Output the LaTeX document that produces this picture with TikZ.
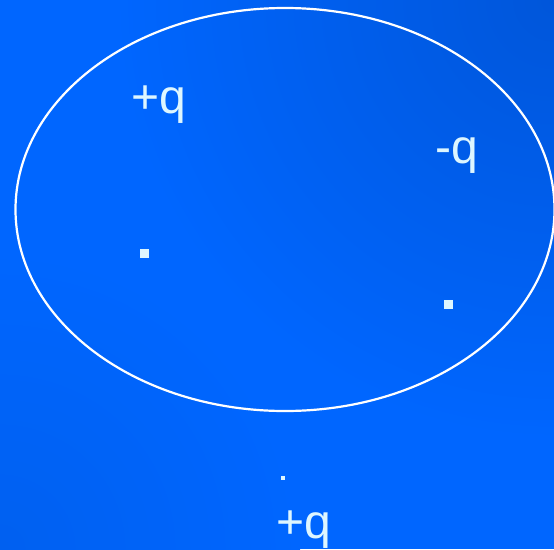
\documentclass[tikz,border=0pt]{standalone}
\usepackage{fontspec}
\setmainfont{Liberation Sans}
\usetikzlibrary{shapes.geometric}
\definecolor{slideblue}{HTML}{0066FF}
\definecolor{slidedark}{HTML}{0056DA}
\definecolor{slidelow}{HTML}{0060F0}
\definecolor{chargefg}{HTML}{DDF6FF}

\begin{document}
\begin{tikzpicture}[
	x=1pt, y=-1pt,
	charge/.style={ rectangle, fill=chargefg, inner sep=0pt, minimum size=9pt },
	chargeo/.style={ rectangle, fill=chargefg, inner sep=0pt, minimum size=4.5pt },
	qlabel/.style={ text=chargefg, inner sep=0pt, anchor=base west, font=\fontsize{48}{54}\selectfont }
]

\fill[slideblue] (0,0) rectangle (554,549);
% darker corners
\begin{scope}
	\clip (0,0) rectangle (554,549);
	\shade[inner color=slidedark, outer color=slideblue] (554,0) circle (440);
	\shade[inner color=slidelow, outer color=slideblue] (0,549) circle (300);
\end{scope}
\useasboundingbox (0,0) rectangle (554,549);

\node at (285,209.5) (surface) [ellipse, draw=white, line width=2.2pt, minimum width=539pt, minimum height=403pt, inner sep=0pt] {};

\node at (131,113) (qone) [qlabel] {+q};
\node at (435,163) (qtwo) [qlabel] {-q};
\node at (276,538) (qthree) [qlabel] {+q};

\node at (144.5,253.5) (one) [charge] {};
\node at (448.5,304) (two) [charge] {};
\node at (283,478) (three) [chargeo] {};

\end{tikzpicture}
\end{document}
